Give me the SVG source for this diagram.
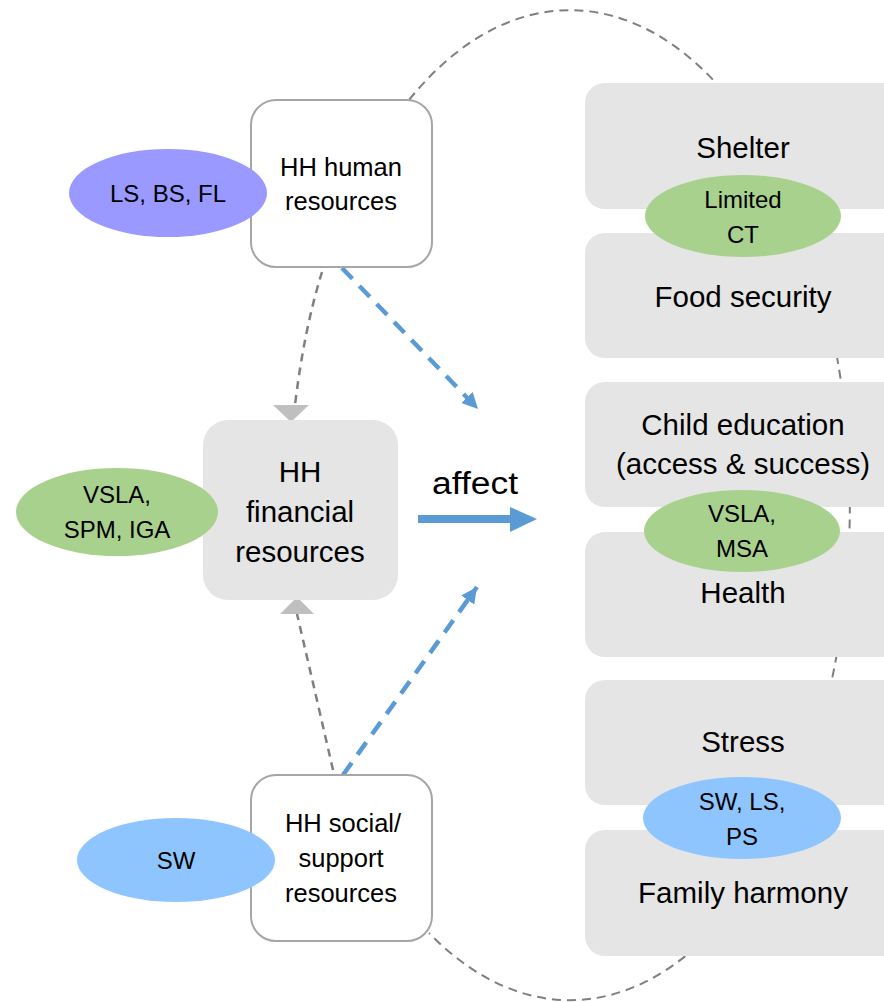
<svg xmlns="http://www.w3.org/2000/svg" width="884" height="1002" viewBox="0 0 884 1002">
  <style>
    .txt { font-family: "Liberation Sans", Arial, sans-serif; fill: #000; text-anchor: middle; }
    .big { font-size: 29.5px; }
    .mid { font-size: 25.5px; }
    .sm { font-size: 24px; }
    .outcome { fill: #e5e5e5; }
    .plain { fill: #ffffff; stroke: #a6a6a6; stroke-width: 2; }
    .fin { fill: #e5e5e5; }
    .green { fill: #a9d18e; }
    .blue { fill: #8ec5ff; }
    .purple { fill: #9999ff; }
    .loop { fill: none; stroke: #7f7f7f; stroke-width: 2; stroke-dasharray: 9 6; }
    .gdash { fill: none; stroke: #7f7f7f; stroke-width: 2.5; stroke-dasharray: 8 6; }
    .bdash { fill: none; stroke: #5b9bd5; stroke-width: 4.5; stroke-dasharray: 15 10; }
    .ghead { fill: #bfbfbf; }
  </style>
  <defs>
    <marker id="blueHead" markerUnits="userSpaceOnUse" markerWidth="18" markerHeight="16" refX="16" refY="8" orient="auto">
      <path d="M0,0 L16,8 L0,16 Z" fill="#5b9bd5"/>
    </marker>
  </defs>

  <rect width="884" height="1002" fill="#ffffff"/>

  <!-- feedback loop behind everything -->
  <g id="connectors-back">
    <path class="loop" d="M409,100 A280,495 0 1 1 429,933"/>
  </g>

  <!-- outcome boxes -->
  <g id="shelter">
    <rect class="outcome" x="585" y="83" width="330" height="126" rx="20"/>
    <text class="txt big" x="743" y="158">Shelter</text>
  </g>
  <g id="food-security">
    <rect class="outcome" x="585" y="233" width="330" height="125" rx="20"/>
    <text class="txt big" x="743" y="307">Food security</text>
  </g>
  <g id="child-education">
    <rect class="outcome" x="585" y="382" width="330" height="125" rx="20"/>
    <text class="txt big" x="743" y="435">Child education</text>
    <text class="txt big" x="743" y="474">(access &amp; success)</text>
  </g>
  <g id="health">
    <rect class="outcome" x="585" y="532" width="330" height="125" rx="20"/>
    <text class="txt big" x="743" y="603">Health</text>
  </g>
  <g id="stress">
    <rect class="outcome" x="585" y="680" width="330" height="125" rx="20"/>
    <text class="txt big" x="743" y="752">Stress</text>
  </g>
  <g id="family-harmony">
    <rect class="outcome" x="585" y="830" width="330" height="126" rx="20"/>
    <text class="txt big" x="743" y="903">Family harmony</text>
  </g>

  <!-- intervention tags between outcomes -->
  <g id="tag-limited-ct">
    <ellipse class="green" cx="743" cy="216" rx="98" ry="41"/>
    <text class="txt sm" x="743" y="208">Limited</text>
    <text class="txt sm" x="743" y="243">CT</text>
  </g>
  <g id="tag-vsla-msa">
    <ellipse class="green" cx="742" cy="531" rx="98" ry="41"/>
    <text class="txt sm" x="742" y="522">VSLA,</text>
    <text class="txt sm" x="742" y="557">MSA</text>
  </g>
  <g id="tag-sw-ls-ps">
    <ellipse class="blue" cx="742" cy="818" rx="99" ry="41"/>
    <text class="txt sm" x="742" y="810">SW, LS,</text>
    <text class="txt sm" x="742" y="845">PS</text>
  </g>

  <!-- arrows between resources and outcomes -->
  <g id="connectors">
    <path class="gdash" d="M322,272 Q304,330 295,405"/>
    <polygon class="ghead" points="273,405 309,405 291,422"/>
    <path class="gdash" d="M333,770 Q317,700 297,614"/>
    <polygon class="ghead" points="280,614 314,614 297,597"/>
    <path class="bdash" d="M342,268 L478,409" marker-end="url(#blueHead)"/>
    <path class="bdash" d="M343,775 L477,587" marker-end="url(#blueHead)"/>
    <rect x="418" y="515" width="94" height="8" fill="#5b9bd5"/>
    <polygon points="510,507 537,519 510,532" fill="#5b9bd5"/>
    <text class="txt" x="475" y="494" font-size="31" textLength="86" lengthAdjust="spacingAndGlyphs">affect</text>
  </g>

  <!-- resource boxes -->
  <g id="hh-human">
    <rect class="plain" x="251" y="100" width="181" height="167" rx="25"/>
    <text class="txt mid" x="341" y="176">HH human</text>
    <text class="txt mid" x="341" y="210">resources</text>
  </g>
  <g id="hh-financial">
    <rect class="fin" x="203" y="420" width="195" height="180" rx="25"/>
    <text class="txt big" x="300" y="482">HH</text>
    <text class="txt big" x="300" y="522">financial</text>
    <text class="txt big" x="300" y="562">resources</text>
  </g>
  <g id="hh-social">
    <rect class="plain" x="251" y="775" width="181" height="166" rx="25"/>
    <text class="txt mid" x="343" y="832">HH social/</text>
    <text class="txt mid" x="341" y="867">support</text>
    <text class="txt mid" x="341" y="902">resources</text>
  </g>

  <!-- intervention tags on resources -->
  <g id="tag-ls-bs-fl">
    <ellipse class="purple" cx="168" cy="193" rx="99" ry="44"/>
    <text class="txt sm" x="168" y="202">LS, BS, FL</text>
  </g>
  <g id="tag-vsla-spm-iga">
    <ellipse class="green" cx="117" cy="512" rx="101" ry="44"/>
    <text class="txt sm" x="117" y="503">VSLA,</text>
    <text class="txt sm" x="117" y="538">SPM, IGA</text>
  </g>
  <g id="tag-sw">
    <ellipse class="blue" cx="176" cy="860" rx="99" ry="42"/>
    <text class="txt sm" x="176" y="869">SW</text>
  </g>
</svg>
